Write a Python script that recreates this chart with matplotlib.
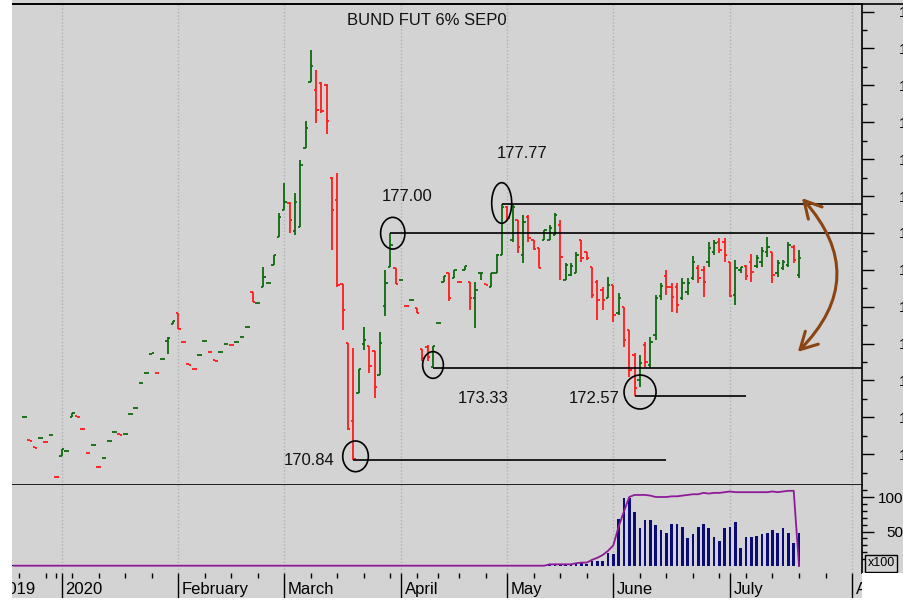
import numpy as np
import pandas as pd
import matplotlib.pyplot as plt
from matplotlib.patches import Ellipse, Rectangle, FancyArrowPatch
from matplotlib.lines import Line2D
from matplotlib.ticker import FixedLocator, MultipleLocator, FormatStrFormatter
from matplotlib.transforms import blended_transform_factory, offset_copy

plt.rcParams['font.family'] = ['Liberation Sans', 'DejaVu Sans']

# Eurex sessions (exchange holidays removed)
eurex_closed = ['2019-12-24', '2019-12-25', '2019-12-26', '2019-12-31',
                '2020-01-01', '2020-04-10', '2020-04-13', '2020-05-01']
sessions = pd.bdate_range('2019-11-25', '2020-08-31')
sessions = sessions[~sessions.isin(pd.to_datetime(eurex_closed))]

price_start = '2019-12-17'
opens = [
    172.01, 171.38, 171.19, 171.44, 171.34, 171.51, 170.39, 170.96, 171.09, 172.02,
    172.03, 171.69, 171.04, 171.25, 170.66, 170.90, 171.36, 171.59, 171.54, 171.55,
    172.08, 172.24, 172.92, 173.20, 173.73, 173.21, 173.57, 174.07, 174.54, 174.82,
    174.05, 173.44, 173.32, 173.68, 174.06, 173.78, 173.55, 173.76, 173.99, 173.97,
    174.03, 174.18, 174.44, 175.40, 175.10, 175.54, 175.64, 176.13, 176.90, 177.62,
    177.81, 177.05, 177.15, 179.29, 181.08, 180.87, 181.07, 181.01, 178.48, 177.89,
    175.61, 174.01, 171.91, 172.67, 174.00, 173.93, 173.80, 173.15, 175.02, 176.08,
    176.04, 175.71, 175.03, 175.17, 174.96, 173.84, 173.92, 173.37, 174.56, 175.68,
    175.91, 175.79, 175.67, 175.99, 175.68, 175.23, 175.91, 175.61, 175.53, 175.92,
    176.40, 177.70, 176.81, 177.35, 176.40, 177.43, 176.81, 176.58, 176.81, 176.81,
    176.94, 177.21, 175.72, 175.86, 175.90, 176.81, 176.48, 176.07, 175.67, 175.45,
    175.23, 175.59, 174.83, 175.00, 174.37, 173.69, 173.01, 173.96, 173.42, 174.23,
    175.29, 175.83, 175.53, 175.53, 175.24, 175.40, 175.78, 176.05, 175.99, 176.21,
    176.48, 176.76, 176.76, 176.22, 175.32, 175.99, 176.10, 176.21, 176.10, 176.21,
    176.48, 176.49, 175.91, 176.05, 176.13, 176.62, 175.86]
highs = [
    172.02, 171.38, 171.19, 171.45, 171.34, 171.52, 170.39, 171.14, 171.10, 172.13,
    172.03, 171.69, 171.04, 171.26, 170.66, 170.91, 171.37, 171.60, 171.54, 171.56,
    172.09, 172.25, 172.93, 173.21, 173.74, 173.21, 173.58, 174.17, 174.61, 174.82,
    174.05, 173.44, 173.32, 173.69, 174.07, 173.78, 173.55, 173.77, 174.00, 173.97,
    174.04, 174.19, 174.45, 175.40, 175.11, 176.07, 175.65, 176.40, 177.53, 178.36,
    177.85, 178.09, 178.98, 180.04, 181.96, 181.42, 181.10, 181.04, 178.52, 178.63,
    175.61, 174.01, 173.87, 173.31, 174.44, 173.93, 173.80, 174.32, 175.99, 177.00,
    176.04, 175.72, 175.03, 175.18, 174.96, 173.84, 173.96, 173.93, 174.57, 175.83,
    175.91, 175.99, 175.67, 176.11, 175.68, 175.67, 175.92, 175.61, 175.92, 176.43,
    177.77, 177.72, 177.76, 177.35, 177.49, 177.49, 176.81, 176.58, 177.08, 177.21,
    177.54, 177.35, 176.18, 176.18, 176.49, 176.81, 176.49, 176.07, 175.72, 175.54,
    175.81, 175.59, 175.36, 175.00, 174.37, 173.74, 173.69, 174.05, 174.19, 175.32,
    175.63, 175.99, 175.63, 175.63, 175.77, 175.77, 176.37, 176.13, 176.10, 176.76,
    176.81, 176.85, 176.85, 176.22, 176.27, 176.08, 176.13, 176.42, 176.40, 176.63,
    176.90, 176.49, 176.27, 176.27, 176.76, 176.67, 176.54]
lows = [
    172.01, 171.37, 171.18, 171.44, 171.33, 171.51, 170.38, 170.96, 171.09, 172.02,
    172.02, 171.68, 171.03, 171.25, 170.65, 170.90, 171.36, 171.59, 171.53, 171.55,
    172.08, 172.24, 172.92, 173.20, 173.73, 173.20, 173.57, 173.72, 174.54, 174.39,
    174.04, 173.43, 173.31, 173.68, 174.06, 173.77, 173.54, 173.76, 173.99, 173.96,
    174.03, 174.18, 174.44, 175.13, 175.10, 175.54, 175.64, 176.13, 176.90, 177.62,
    177.00, 176.94, 177.15, 179.29, 181.08, 179.97, 180.26, 179.67, 176.54, 175.54,
    174.37, 171.66, 170.84, 172.67, 173.83, 173.21, 172.52, 173.15, 174.75, 176.08,
    175.61, 175.71, 175.02, 175.17, 174.82, 173.53, 173.54, 173.33, 174.56, 175.68,
    175.15, 175.79, 175.66, 175.99, 174.91, 174.42, 175.72, 175.60, 175.53, 175.92,
    176.40, 177.32, 176.74, 176.46, 176.18, 176.76, 176.54, 176.04, 176.81, 176.81,
    176.94, 175.72, 175.72, 175.83, 175.90, 176.22, 176.27, 175.23, 174.64, 174.91,
    175.23, 174.59, 174.77, 173.92, 173.10, 172.57, 172.83, 173.37, 173.33, 174.10,
    175.18, 175.32, 174.86, 174.82, 175.18, 175.32, 175.72, 175.63, 175.27, 176.08,
    176.40, 176.45, 176.22, 175.27, 175.04, 175.90, 175.72, 175.68, 176.04, 176.08,
    176.35, 175.63, 175.81, 175.99, 176.08, 176.18, 175.77]
closes = [
    172.02, 171.37, 171.18, 171.45, 171.33, 171.52, 170.38, 171.14, 171.10, 172.13,
    172.02, 171.68, 171.03, 171.26, 170.65, 170.91, 171.37, 171.60, 171.53, 171.56,
    172.09, 172.25, 172.93, 173.21, 173.74, 173.20, 173.58, 174.16, 174.61, 174.39,
    174.04, 173.43, 173.31, 173.69, 174.07, 173.77, 173.54, 173.77, 174.00, 173.96,
    174.04, 174.19, 174.45, 175.13, 175.11, 175.80, 175.65, 176.40, 177.43, 177.85,
    177.35, 177.85, 178.84, 179.84, 181.52, 180.33, 180.31, 180.04, 177.62, 175.59,
    174.91, 171.68, 170.88, 173.31, 174.10, 173.39, 172.81, 174.01, 175.65, 176.67,
    175.61, 175.72, 175.02, 175.18, 174.82, 173.61, 173.64, 173.93, 174.57, 175.83,
    175.24, 175.99, 175.66, 176.11, 175.23, 175.45, 175.92, 175.60, 175.92, 176.40,
    177.71, 177.40, 177.70, 176.62, 177.30, 176.86, 176.56, 176.04, 177.08, 177.13,
    177.49, 176.35, 176.13, 176.10, 176.40, 176.32, 176.32, 175.32, 175.18, 175.18,
    175.59, 174.77, 175.24, 174.10, 173.28, 172.80, 173.47, 173.50, 174.05, 175.24,
    175.56, 175.53, 175.26, 175.04, 175.64, 175.64, 176.21, 175.78, 175.67, 176.59,
    176.73, 176.54, 176.40, 175.29, 176.05, 176.07, 175.83, 175.94, 176.32, 176.51,
    176.62, 175.86, 176.18, 176.21, 176.67, 176.27, 176.32]

# volume and open interest, in hundreds of contracts
volume_start = '2019-12-13'
volumes = [
    2, 2, 2, 2, 2, 2, 2, 2, 2, 2,
    2, 2, 2, 2, 2, 2, 2, 2, 2, 2,
    2, 2, 2, 2, 2, 2, 2, 2, 2, 2,
    2, 2, 2, 2, 2, 2, 2, 2, 2, 2,
    2, 2, 2, 2, 2, 2, 2, 2, 2, 2,
    2, 2, 2, 2, 2, 2, 2, 2, 2, 2,
    2, 2, 2, 2, 2, 2, 2, 2, 2, 2,
    2, 2, 2, 2, 2, 2, 2, 2, 2, 2,
    2, 2, 2, 2, 2, 2, 2, 2, 2, 2,
    2, 2, 2, 2, 2, 2, 2, 2, 2, 2,
    2, 3, 3, 3, 3, 3, 3,
    4, 3, 8, 8, 8, 19, 17, 68, 99, 99,
    79, 55, 67, 67, 60, 52, 48, 61, 61, 56,
    40, 46, 56, 61, 55, 42, 36, 55, 57, 64,
    26, 42, 42, 44, 46, 48, 52, 48, 55, 48,
    34, 48]
open_interest = [
    0.5, 0.5, 0.5, 0.5, 0.5, 0.5, 0.5, 0.5, 0.5, 0.5,
    0.5, 0.5, 0.5, 0.5, 0.5, 0.5, 0.5, 0.5, 0.5, 0.5,
    0.5, 0.5, 0.5, 0.5, 0.5, 0.5, 0.5, 0.5, 0.5, 0.5,
    0.5, 0.5, 0.5, 0.5, 0.5, 0.5, 0.5, 0.5, 0.5, 0.5,
    0.5, 0.5, 0.5, 0.5, 0.5, 0.5, 0.5, 0.5, 0.5, 0.5,
    0.5, 0.5, 0.5, 0.5, 0.5, 0.5, 0.5, 0.5, 0.5, 0.5,
    0.5, 0.5, 0.5, 0.5, 0.5, 0.5, 0.5, 0.5, 0.5, 0.5,
    0.5, 0.5, 0.5, 0.5, 0.5, 0.5, 0.5, 0.5, 0.5, 0.5,
    0.5, 0.5, 0.5, 0.5, 0.5, 0.5, 0.5, 0.5, 0.5, 0.5,
    0.5, 0.5, 0.5, 0.5, 0.5, 0.5, 0.5, 0.5, 0.5, 0.5,
    0.5, 2.5, 2.5, 2.5, 2.5, 2.5, 4,
    5, 5, 9, 12, 16, 22, 30, 57, 79, 100,
    103, 103, 103, 102, 100, 100, 100, 101, 101, 102,
    103, 104, 104, 106, 105, 106, 106, 107, 108, 107,
    107, 107, 107, 107, 107, 107, 108, 107, 108, 109,
    109, 0]

# marked levels: price, session of the marked bar, session where the line stops
level_values = [177.77, 177.00, 173.33, 172.57, 170.84]
level_labels = ['177.77', '177.00', '173.33', '172.57', '170.84']
level_dates = ['2020-04-30', '2020-03-30', '2020-04-09', '2020-06-05', '2020-03-19']
level_ends = [None, None, None, '2020-07-06', '2020-06-15']

month_names = ['2020', 'February', 'March', 'April', 'May', 'June', 'July', 'August']

# ---------------------------------------------------------------------------
zero = sessions.get_loc(pd.Timestamp('2020-01-02'))
pos = np.arange(len(sessions)) - zero


def spot(day):
    return pos[sessions.get_loc(pd.Timestamp(day))]


o, h, l, c = (np.array(a) for a in (opens, highs, lows, closes))
xp = spot(price_start) + np.arange(len(c))
prev = np.r_[c[0], c[:-1]]
up = np.where(c != o, c > o, c >= prev)
cols = np.where(up, '#0d6a0d', '#ff1a1a')

xv = spot(volume_start) + np.arange(len(volumes))

months = sessions.to_period('M')
first_of_month = pos[np.r_[True, months[1:] != months[:-1]]]
weeks = sessions.to_period('W')
first_of_week = pos[np.r_[True, weeks[1:] != weeks[:-1]]]
month_starts = [p for p in first_of_month if 0 <= p <= 150]

bg = '#d3d3d3'
fig = plt.figure(figsize=(9.04, 6.02), dpi=100, facecolor=bg)
ax = fig.add_axes([12 / 904, 1 - 485 / 602, 850 / 904, 481 / 602])
vax = fig.add_axes([12 / 904, 1 - 573 / 602, 850 / 904, 88 / 602])
xlim = (-9.33, 150.87)

for a in (ax, vax):
    a.set_facecolor(bg)
    a.set_xlim(*xlim)
    a.spines['left'].set_visible(False)
    a.spines['right'].set_linewidth(1.2)
    for m in month_starts:
        a.axvline(m, color='#b0b0b0', lw=1, ls=(0, (1, 1.5)), zorder=0)

ax.spines['top'].set_linewidth(1.2)
ax.spines['bottom'].set_linewidth(1.2)
vax.spines['top'].set_visible(False)
vax.spines['bottom'].set_visible(False)

# price bars
ax.set_ylim(170.166, 183.205)
ax.vlines(xp, l, h, colors=cols, lw=1.3, zorder=2)
ax.hlines(o, xp - 0.45, xp, colors=cols, lw=1.3, zorder=2)
ax.hlines(c, xp, xp + 0.45, colors=cols, lw=1.3, zorder=2)

ax.tick_params(axis='x', which='both', bottom=False, labelbottom=False)
ax.yaxis.tick_right()
ax.yaxis.set_major_locator(MultipleLocator(1))
ax.yaxis.set_minor_locator(MultipleLocator(0.5))
ax.yaxis.set_major_formatter(FormatStrFormatter('%d'))
ax.tick_params(axis='y', which='major', length=8.6, width=1, pad=18, labelsize=11)
ax.tick_params(axis='y', which='minor', length=3.6, width=1)

fig.canvas.draw()
p0 = ax.transData.transform((0, 0))
ppx = ax.transData.transform((1, 0))[0] - p0[0]
ppy = ax.transData.transform((0, 1))[1] - p0[1]

# support / resistance marks
rings = [(20, 40.6, -0.2, -1.5), (24.3, 31.7, 2.3, 0.3), (20.7, 26.7, 0.1, -3.3),
         (32, 34, 5.5, -4.3), (25.6, 30.7, 2.2, -3.8)]
label_offsets = [(14.5, 37), (12.2, 26.4), (36, -21.4), (-29.2, -1.4), (-31.5, 0)]
for lv, txt, d0, d1, rg, off in zip(level_values, level_labels, level_dates,
                                    level_ends, rings, label_offsets):
    x0 = spot(d0)
    x1 = xlim[1] if d1 is None else spot(d1)
    ax.hlines(lv, x0, x1, color='black', lw=1.2, zorder=3)
    w, hh, dx, dy = rg
    ax.add_patch(Ellipse((x0 + dx / ppx, lv - dy / ppy), w / ppx, hh / ppy,
                         fill=False, ec='black', lw=1.2, zorder=3))
    ax.annotate(txt, (x0, lv), xytext=off, textcoords='offset points',
                ha='center', va='center', fontsize=12, color='#111111')

ax.text(0.488, 0.9647, 'BUND FUT 6% SEP0', transform=ax.transAxes,
        ha='center', va='center', fontsize=12, color='#111111')

arrow = FancyArrowPatch((139.2, 178.0), (138.4, 173.72),
                        connectionstyle='arc3,rad=-0.48',
                        arrowstyle='<->,head_length=0.55,head_width=0.3',
                        mutation_scale=22, color='#8b4513', lw=2.2, zorder=4)
ax.add_patch(arrow)

# volume panel
vax.set_ylim(-10.1, 117.4)
vax.bar(xv, volumes, width=0.5, color='#0a0a78', zorder=2)
vax.plot(xv, open_interest, color='#8e1a9a', lw=1.3, zorder=3)
vax.yaxis.tick_right()
vax.yaxis.set_major_locator(FixedLocator([50, 100]))
vax.yaxis.set_minor_locator(FixedLocator(np.arange(10, 120, 10)))
vax.tick_params(axis='y', which='major', length=8.6, width=1, pad=21, labelsize=11)
vax.tick_params(axis='y', which='minor', length=3.6, width=1)
plt.setp(vax.get_yticklabels(), ha='right')

vax.xaxis.set_major_locator(FixedLocator(month_starts))
vax.xaxis.set_minor_locator(FixedLocator(first_of_week))
vax.tick_params(axis='x', which='major', length=18.7, width=1, labelbottom=False)
vax.tick_params(axis='x', which='minor', length=3.6, width=1)

tr = offset_copy(blended_transform_factory(vax.transData, vax.transAxes),
                 fig=fig, x=2.5, y=-12.2, units='points')
for m, name in zip(month_starts, month_names):
    vax.text(m, 0, name, transform=tr, ha='left', va='center', fontsize=12,
             clip_on=False)
vax.text(0.027, 0, '2019', transform=offset_copy(vax.transAxes, fig=fig, y=-12.2,
         units='points'), ha='right', va='center', fontsize=12, clip_on=False)

fig.text(881 / 904, 1 - 563.5 / 602, 'x100', ha='center', va='center', fontsize=9,
         bbox=dict(boxstyle='square,pad=0.2', fc=bg, ec='black', lw=1))

# frame pieces outside the axes
fig.add_artist(Line2D([12 / 904, 1], [1 - 4 / 602] * 2, color='black', lw=1.2,
                      transform=fig.transFigure))
for rect in [(0, 0, 12 / 904, 1), (0, 0, 1, 4 / 602),
             (862.5 / 904, 0, 1, 29 / 602)]:
    fig.add_artist(Rectangle(rect[:2], rect[2], rect[3], transform=fig.transFigure,
                             facecolor='white', edgecolor='none', zorder=10))

fig.savefig('out.png', dpi=100, facecolor=bg)
